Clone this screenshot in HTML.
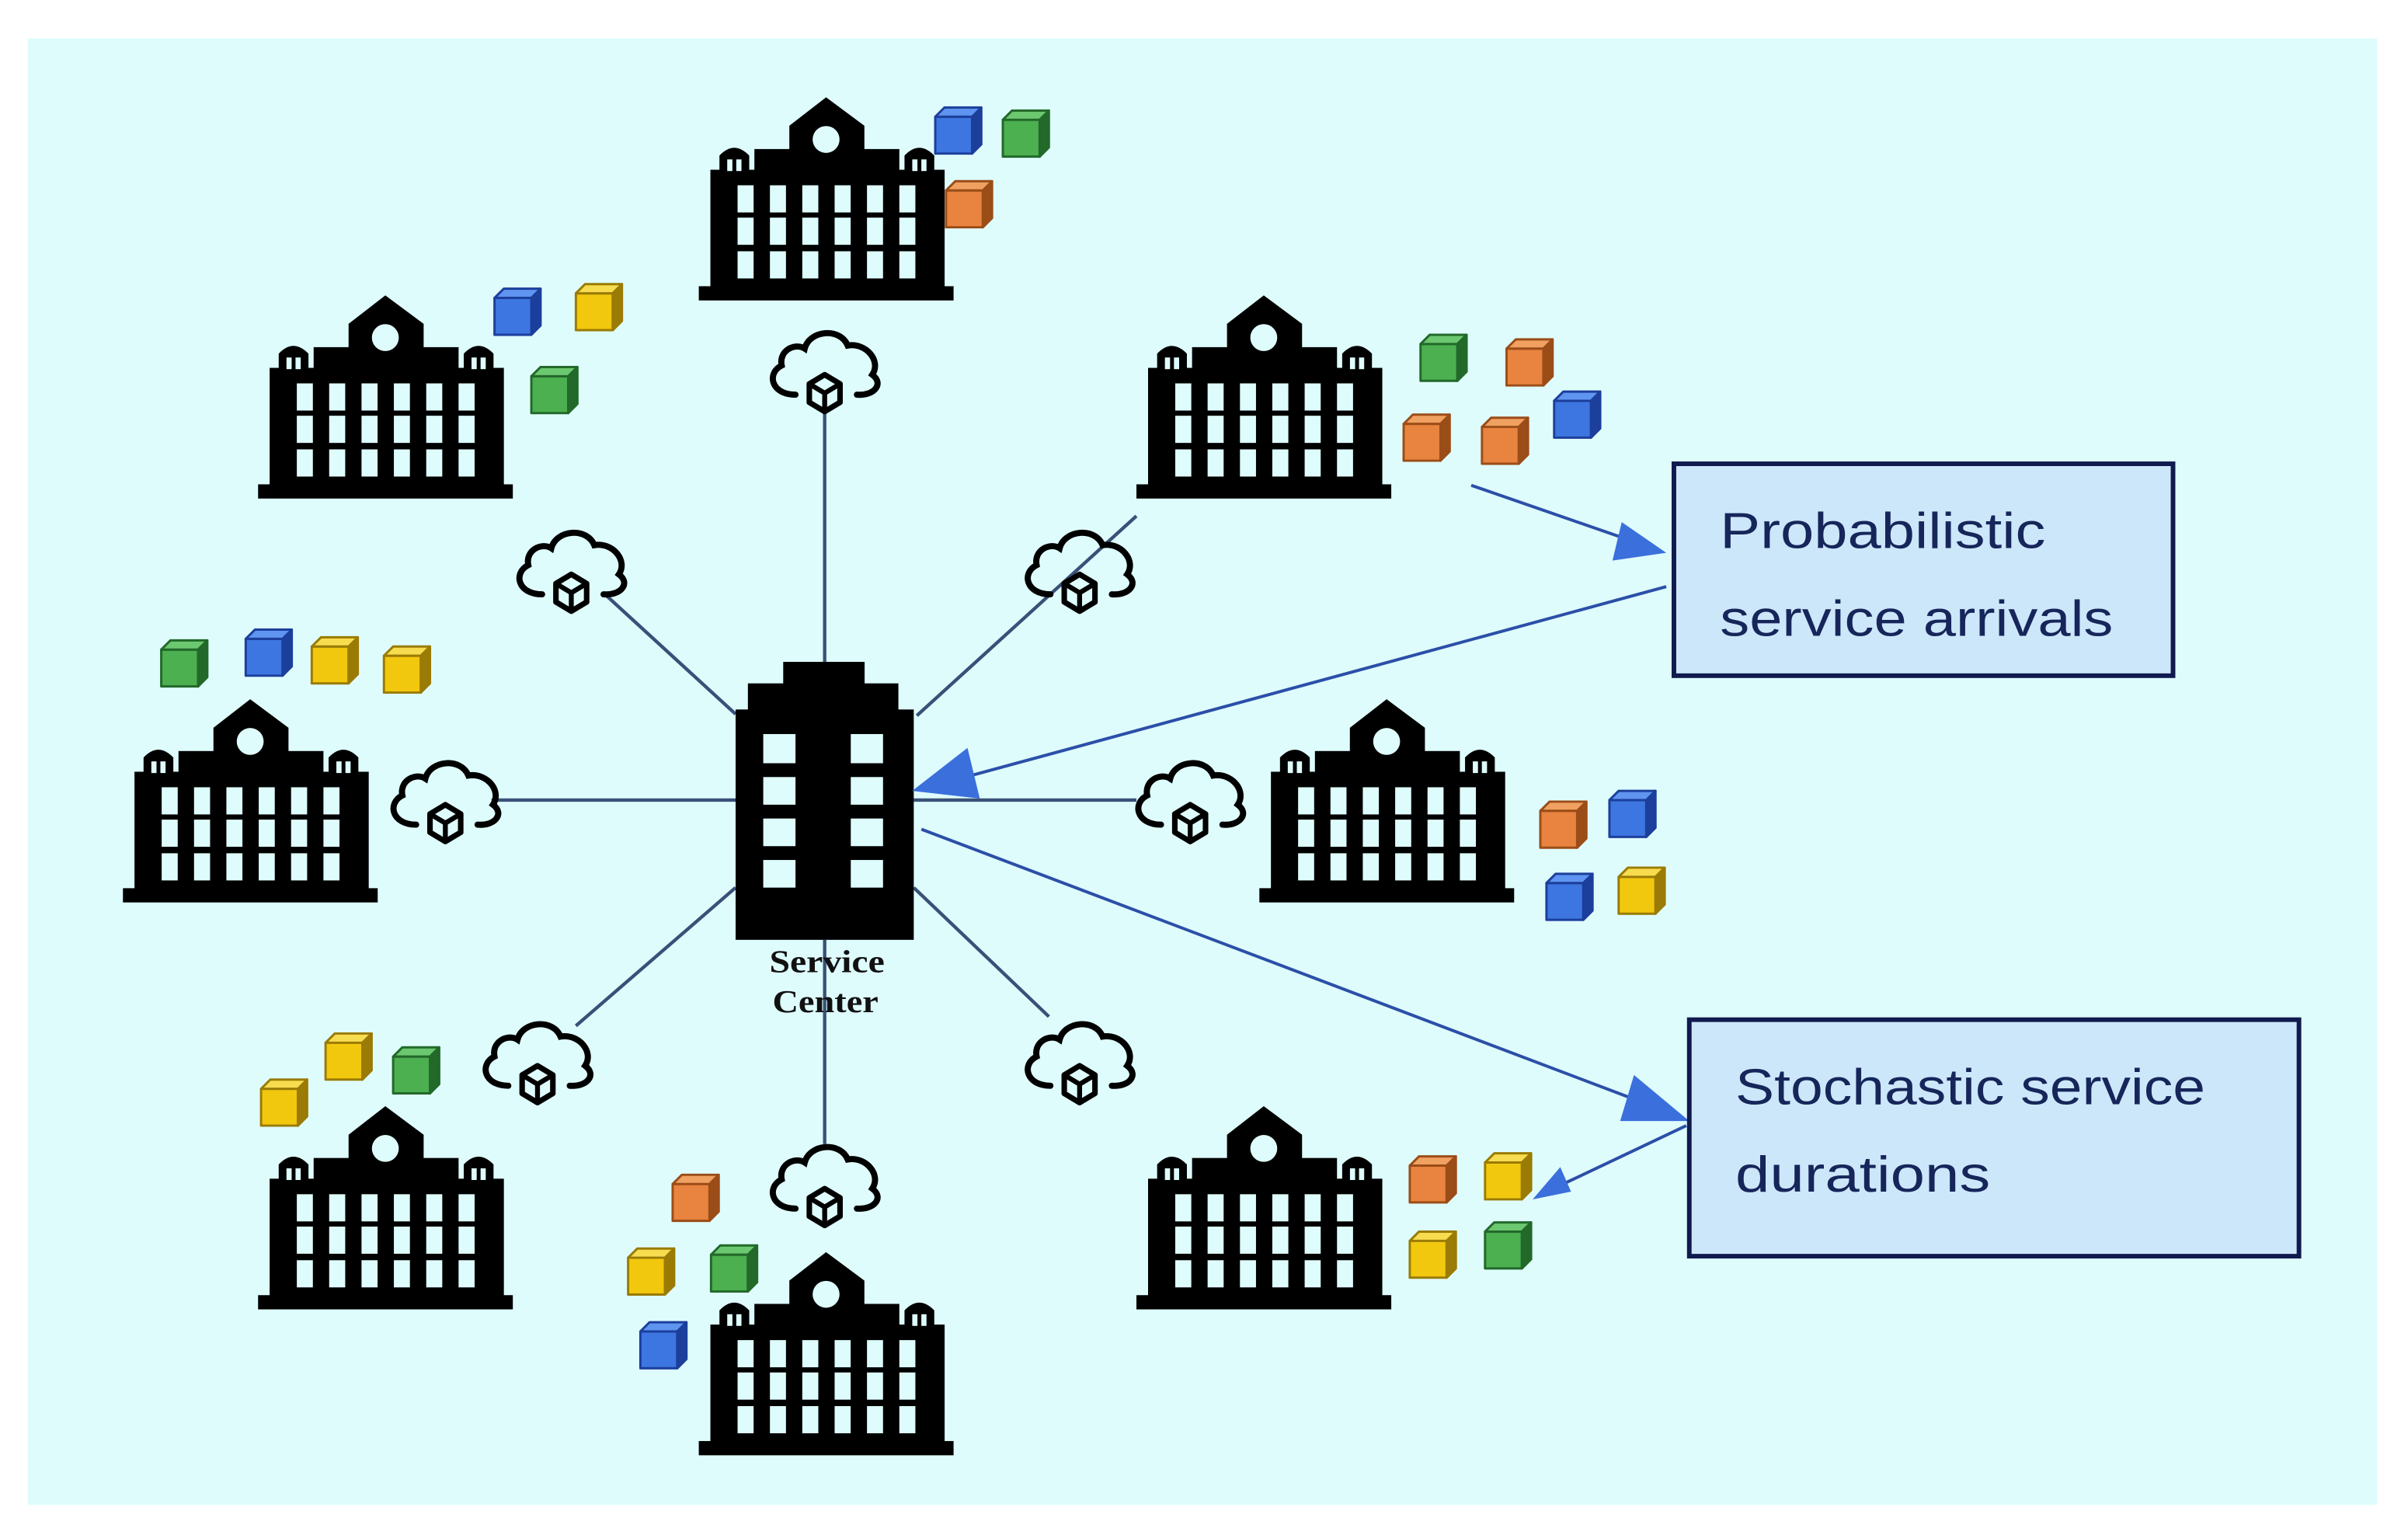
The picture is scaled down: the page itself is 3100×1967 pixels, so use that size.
<!DOCTYPE html>
<html><head><meta charset="utf-8"><style>
html,body{margin:0;padding:0;background:#fff;}
svg{display:block;}
</style></head><body>
<svg width="3100" height="1967" viewBox="0 0 1568 995" preserveAspectRatio="none" xmlns="http://www.w3.org/2000/svg">
<defs>
<symbol id="bld" viewBox="0 0 985 785">
 <rect x="0" y="730" width="985" height="55" fill="#000"/>
 <rect x="45" y="280" width="905" height="455" fill="#000"/>
 <rect x="215" y="200" width="560" height="90" fill="#000"/>
 <polygon points="350,205 350,110 492,0 640,110 640,205" fill="#000"/>
 <circle cx="492" cy="163" r="52" fill="#dffcfc"/>
 <path d="M80 290 L80 225 Q137 165 195 225 L195 290 Z" fill="#000"/>
 <path d="M795 290 L795 225 Q852 165 910 225 L910 290 Z" fill="#000"/>
 <rect x="110" y="240" width="20" height="45" fill="#dffcfc"/><rect x="145" y="240" width="20" height="45" fill="#dffcfc"/>
 <rect x="825" y="240" width="20" height="45" fill="#dffcfc"/><rect x="860" y="240" width="20" height="45" fill="#dffcfc"/>
 <g fill="#dffcfc">
  <rect x="150" y="340" width="62" height="105"/><rect x="275" y="340" width="62" height="105"/><rect x="400" y="340" width="62" height="105"/><rect x="525" y="340" width="62" height="105"/><rect x="650" y="340" width="62" height="105"/><rect x="775" y="340" width="62" height="105"/>
  <rect x="150" y="465" width="62" height="105"/><rect x="275" y="465" width="62" height="105"/><rect x="400" y="465" width="62" height="105"/><rect x="525" y="465" width="62" height="105"/><rect x="650" y="465" width="62" height="105"/><rect x="775" y="465" width="62" height="105"/>
  <rect x="150" y="595" width="62" height="105"/><rect x="275" y="595" width="62" height="105"/><rect x="400" y="595" width="62" height="105"/><rect x="525" y="595" width="62" height="105"/><rect x="650" y="595" width="62" height="105"/><rect x="775" y="595" width="62" height="105"/>
 </g>
</symbol>
<symbol id="cloud" viewBox="0 0 78 60">
 <path d="M20 45 C4 45 1 31 11 26 C9 16 20 11 26 15 C29 3 49 1 54 13 C66 11 76 23 70 32 C78 38 71 46 60 45" fill="none" stroke="#000" stroke-width="4" stroke-linecap="round"/>
 <polygon points="39,32 49,38 49,50 39,56 29,50 29,38" fill="#dffcfc" stroke="#000" stroke-width="3.6" stroke-linejoin="round"/>
 <path d="M29 38 L39 44 L49 38 M39 44 L39 56" fill="none" stroke="#000" stroke-width="3.2"/>
</symbol>
<symbol id="cb" viewBox="0 0 32 32"><g stroke-width="1.5" stroke-linejoin="round">
 <rect x="1" y="7" width="24" height="24" fill="var(--c)" stroke="var(--d)"/>
 <polygon points="1,7 7,1 31,1 25,7" fill="var(--l)" stroke="var(--d)"/>
 <polygon points="25,7 31,1 31,25 25,31" fill="var(--d)" stroke="var(--d)"/></g>
</symbol>
<style>
.b{--c:#3d76e0;--l:#5f95f0;--d:#1c3f9c}
.g{--c:#4caf50;--l:#6cc870;--d:#22692a}
.o{--c:#e8843f;--l:#f0a060;--d:#9b4d18}
.y{--c:#f2c80f;--l:#f7dc50;--d:#9a7b05}
</style>
</defs>
<rect x="0" y="0" width="1568" height="995" fill="#fff"/>
<rect x="18" y="25" width="1530" height="955" fill="#dffcfc"/>

<g stroke="#3a5078" stroke-width="2.2" fill="none">
 <line x1="537" y1="268" x2="537" y2="431"/>
 <line x1="395" y1="388" x2="479" y2="465"/>
 <line x1="740" y1="336" x2="597" y2="466"/>
 <line x1="320" y1="521" x2="479" y2="521"/>
 <line x1="595" y1="521" x2="740" y2="521"/>
 <line x1="375" y1="668" x2="479" y2="578"/>
 <line x1="595" y1="578" x2="683" y2="662"/>
 <line x1="537" y1="612" x2="537" y2="745"/>
</g>

<g fill="#000">
 <rect x="510" y="431" width="53" height="16"/>
 <rect x="487" y="445" width="98" height="20"/>
 <rect x="479" y="462" width="116" height="150"/>
</g>
<g fill="#dffcfc">
 <rect x="497" y="478" width="21" height="19"/><rect x="554" y="478" width="21" height="19"/>
 <rect x="497" y="506" width="21" height="18"/><rect x="554" y="506" width="21" height="18"/>
 <rect x="497" y="533" width="21" height="18"/><rect x="554" y="533" width="21" height="18"/>
 <rect x="497" y="560" width="21" height="18"/><rect x="554" y="560" width="21" height="18"/>
</g>
<g font-family="Liberation Serif, serif" font-weight="bold" font-size="21" fill="#111">
 <text x="501" y="633" textLength="75" lengthAdjust="spacingAndGlyphs">Service</text>
 <text x="503" y="659" textLength="69" lengthAdjust="spacingAndGlyphs">Center</text>
</g>

<use href="#bld" x="455" y="63" width="166" height="133"/>
<use href="#bld" x="168" y="192" width="166" height="133"/>
<use href="#bld" x="740" y="192" width="166" height="133"/>
<use href="#bld" x="80" y="455" width="166" height="133"/>
<use href="#bld" x="820" y="455" width="166" height="133"/>
<use href="#bld" x="168" y="720" width="166" height="133"/>
<use href="#bld" x="455" y="815" width="166" height="133"/>
<use href="#bld" x="740" y="720" width="166" height="133"/>

<use href="#cloud" x="498" y="212" width="78" height="60"/>
<use href="#cloud" x="333" y="342" width="78" height="60"/>
<use href="#cloud" x="664" y="342" width="78" height="60"/>
<use href="#cloud" x="251" y="492" width="78" height="60"/>
<use href="#cloud" x="736" y="492" width="78" height="60"/>
<use href="#cloud" x="311" y="662" width="78" height="60"/>
<use href="#cloud" x="664" y="662" width="78" height="60"/>
<use href="#cloud" x="498" y="742" width="78" height="60"/>

<use href="#cb" class="b" x="608" y="69" width="32" height="32"/>
<use href="#cb" class="g" x="652" y="71" width="32" height="32"/>
<use href="#cb" class="o" x="615" y="117" width="32" height="32"/>

<use href="#cb" class="b" x="321" y="187" width="32" height="32"/>
<use href="#cb" class="y" x="374" y="184" width="32" height="32"/>
<use href="#cb" class="g" x="345" y="238" width="32" height="32"/>

<use href="#cb" class="g" x="924" y="217" width="32" height="32"/>
<use href="#cb" class="o" x="980" y="220" width="32" height="32"/>
<use href="#cb" class="o" x="913" y="269" width="32" height="32"/>
<use href="#cb" class="o" x="964" y="271" width="32" height="32"/>
<use href="#cb" class="b" x="1011" y="254" width="32" height="32"/>

<use href="#cb" class="g" x="104" y="416" width="32" height="32"/>
<use href="#cb" class="b" x="159" y="409" width="32" height="32"/>
<use href="#cb" class="y" x="202" y="414" width="32" height="32"/>
<use href="#cb" class="y" x="249" y="420" width="32" height="32"/>

<use href="#cb" class="o" x="1002" y="521" width="32" height="32"/>
<use href="#cb" class="b" x="1047" y="514" width="32" height="32"/>
<use href="#cb" class="b" x="1006" y="568" width="32" height="32"/>
<use href="#cb" class="y" x="1053" y="564" width="32" height="32"/>

<use href="#cb" class="y" x="211" y="672" width="32" height="32"/>
<use href="#cb" class="g" x="255" y="681" width="32" height="32"/>
<use href="#cb" class="y" x="169" y="702" width="32" height="32"/>

<use href="#cb" class="o" x="437" y="764" width="32" height="32"/>
<use href="#cb" class="y" x="408" y="812" width="32" height="32"/>
<use href="#cb" class="g" x="462" y="810" width="32" height="32"/>
<use href="#cb" class="b" x="416" y="860" width="32" height="32"/>

<use href="#cb" class="o" x="917" y="752" width="32" height="32"/>
<use href="#cb" class="y" x="966" y="750" width="32" height="32"/>
<use href="#cb" class="y" x="917" y="801" width="32" height="32"/>
<use href="#cb" class="g" x="966" y="795" width="32" height="32"/>

<g stroke="#2b4fa8" stroke-width="2" fill="none">
 <line x1="958" y1="316" x2="1062" y2="352"/>
 <line x1="1085" y1="382" x2="625" y2="507"/>
 <line x1="600" y1="540" x2="1070" y2="718"/>
 <line x1="1098" y1="733" x2="1020" y2="770"/>
</g>
<g fill="#3a6fdc">
 <polygon points="1085,360 1056,340 1050,365"/>
 <polygon points="594,515 630,487 638,520"/>
 <polygon points="1100,730 1064,700 1055,730"/>
 <polygon points="998,781 1016,760 1023,776"/>
</g>

<rect x="1090" y="302" width="325" height="138" fill="#cde7fa" stroke="#101a4e" stroke-width="3"/>
<rect x="1100" y="664" width="397" height="154" fill="#cde7fa" stroke="#101a4e" stroke-width="3"/>
<g font-family="Liberation Sans, sans-serif" font-size="33" fill="#16265a">
 <text x="1120" y="357" textLength="212" lengthAdjust="spacingAndGlyphs">Probabilistic</text>
 <text x="1120" y="414" textLength="256" lengthAdjust="spacingAndGlyphs">service arrivals</text>
 <text x="1130" y="719" textLength="306" lengthAdjust="spacingAndGlyphs">Stochastic service</text>
 <text x="1130" y="776" textLength="166" lengthAdjust="spacingAndGlyphs">durations</text>
</g>
</svg>
</body></html>
